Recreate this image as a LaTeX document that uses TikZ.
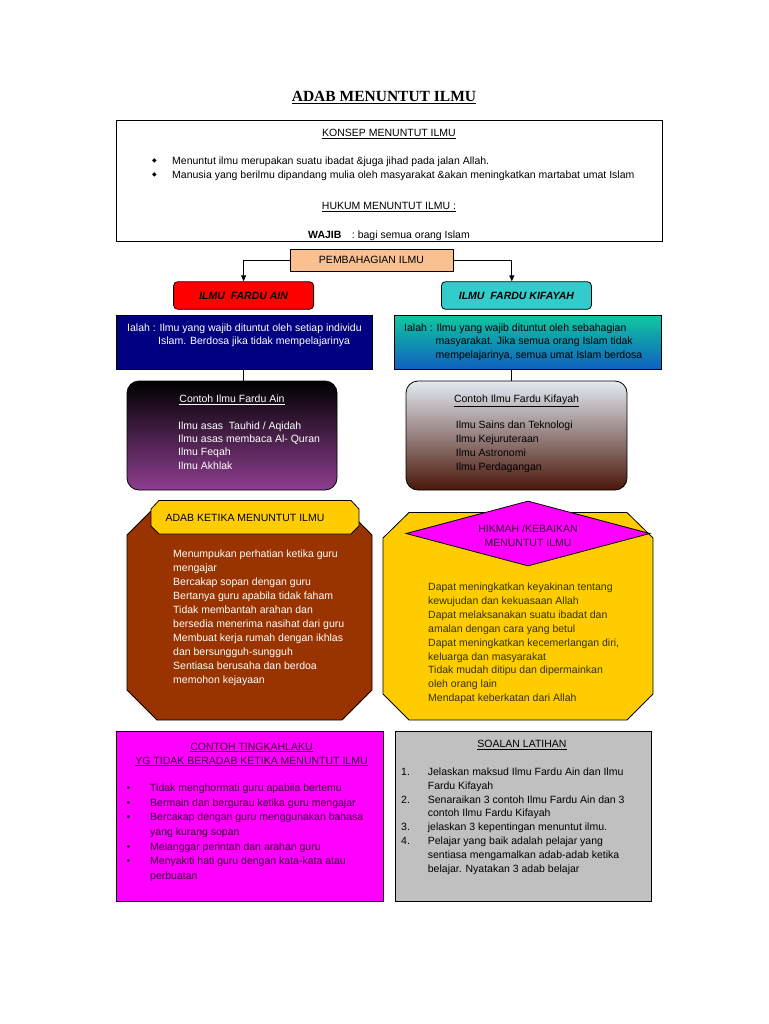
\documentclass[tikz,border=0pt]{standalone}
\usepackage{fontspec}
\setmainfont{Liberation Sans}
\newfontfamily\titlefont{Liberation Serif}
\newfontfamily\symfont{DejaVu Sans}
\usetikzlibrary{shapes.geometric,shapes.misc,arrows.meta}
\definecolor{pemc}{HTML}{FAC090}
\definecolor{fainc}{HTML}{FF0000}
\definecolor{fkifc}{HTML}{33CCCC}
\definecolor{navyc}{HTML}{000080}
\definecolor{tealtop}{HTML}{10C8A0}
\definecolor{tealbot}{HTML}{1060C0}
\definecolor{purpbot}{HTML}{8E3E90}
\definecolor{brtop}{HTML}{E2EAF2}
\definecolor{brbot}{HTML}{4A1609}
\definecolor{adabc}{HTML}{993300}
\definecolor{goldc}{HTML}{FFCC00}
\definecolor{magc}{HTML}{FF00FF}
\definecolor{greyc}{HTML}{C0C0C0}
\definecolor{olivec}{HTML}{333300}
\definecolor{darkpur}{HTML}{330033}
\tikzset{
  txt/.style={inner sep=0pt, anchor=base west, font=\fontsize{10.5}{14}\selectfont},
  ctxt/.style={inner sep=0pt, anchor=base, font=\fontsize{10.5}{14}\selectfont},
  box/.style={draw=black, line width=0.8pt, inner sep=0pt},
  conn/.style={line width=0.8pt},
  tip/.style={-{Triangle[length=6pt,width=5pt]}},
}
\begin{document}
\begin{tikzpicture}[x=1pt,y=-1pt]
\useasboundingbox[fill=white] (0,0) rectangle (768,1024);

% title
\node[inner sep=0pt, anchor=base, font=\titlefont\bfseries\fontsize{15.5}{18}\selectfont] (title) at (384,102) {\underline{ADAB MENUNTUT ILMU}};

% top box
\begin{scope}
\clip (116,120) rectangle (662,240.4);
\node[txt] (wajib) at (308,238.2) {\textbf{WAJIB}\quad: bagi semua orang Islam};
\end{scope}
\node[box, minimum width=546pt, minimum height=121pt] (konsep) at (389,180.5) {};
\node[ctxt] (konsepT) at (389,137) {\underline{KONSEP MENUNTUT ILMU}};
\node[txt, font=\symfont\fontsize{6}{7}\selectfont] (b1) at (152,163) {◆};
\node[txt, font=\symfont\fontsize{6}{7}\selectfont] (b2) at (152,177) {◆};
\node[txt] (k1) at (172,164.5) {Menuntut ilmu merupakan suatu ibadat \&juga jihad pada jalan Allah.};
\node[txt] (k2) at (172,178.5) {Manusia yang berilmu dipandang mulia oleh masyarakat \&akan meningkatkan martabat umat Islam};
\node[ctxt] (hukum) at (389,210) {\underline{HUKUM MENUNTUT ILMU :}};

% pembahagian
\node[box, fill=pemc, minimum width=163pt, minimum height=22pt, font=\fontsize{10.5}{12}\selectfont] (pem) at (371.5,260) {PEMBAHAGIAN ILMU};
\node[box, fill=fainc, rounded corners=4pt, minimum width=140pt, minimum height=27.5pt, font=\bfseries\itshape\fontsize{10.5}{12}\selectfont] (fain) at (243.6,295.5) {ILMU\ \ FARDU AIN};
\node[box, fill=fkifc, rounded corners=4pt, minimum width=150pt, minimum height=27.5pt, font=\bfseries\itshape\fontsize{10.5}{12}\selectfont] (fkif) at (516.4,295.5) {ILMU\ \ FARDU KIFAYAH};
\coordinate (kx) at ([xshift=-4.6pt]fkif.north);
\draw[conn, tip] (pem.west) -| (fain.north);
\draw[conn, tip] (pem.east) -| (kx);

% definition boxes
\node[box, fill=navyc, minimum width=256pt, minimum height=54pt] (navy) at (244,342) {};
\node[txt, text=white] (navyT) at (127,331) {\begin{tabular}[t]{@{}l@{}}Ialah : Ilmu yang wajib dituntut oleh setiap individu\\[-0.5pt] \hspace{31pt}Islam. Berdosa jika tidak mempelajarinya\end{tabular}};
\node[box, top color=tealtop, bottom color=tealbot, minimum width=267pt, minimum height=54pt] (teal) at (528.3,342) {};
\node[txt] (tealT) at (404,331) {\begin{tabular}[t]{@{}l@{}}Ialah : Ilmu yang wajib dituntut oleh sebahagian\\[-0.5pt] \hspace{31.5pt}masyarakat. Jika semua orang Islam tidak\\[-0.5pt] \hspace{31.5pt}mempelajarinya, semua umat Islam berdosa\end{tabular}};

% example boxes
\node[box, top color=black, bottom color=purpbot, rounded corners=12pt, minimum width=210pt, minimum height=109pt] (purple) at (232,435.5) {};
\node[ctxt, text=white] (purT) at (232,402.5) {\underline{Contoh Ilmu Fardu Ain}};
\node[txt, text=white, font=\fontsize{10.5}{13.4}\selectfont] (purL) at (178,429) {\begin{tabular}[t]{@{}l@{}}Ilmu asas\ \ Tauhid / Aqidah\\ Ilmu asas membaca Al- Quran\\ Ilmu Feqah\\ Ilmu Akhlak\end{tabular}};
\node[box, top color=brtop, bottom color=brbot, rounded corners=12pt, minimum width=221pt, minimum height=109pt] (brown) at (516.5,435.5) {};
\node[ctxt] (brT) at (516.5,402.5) {\underline{Contoh Ilmu Fardu Kifayah}};
\node[txt] (brL) at (455.7,428.5) {\begin{tabular}[t]{@{}l@{}}Ilmu Sains dan Teknologi\\ Ilmu Kejuruteraan\\ Ilmu Astronomi\\ Ilmu Perdagangan\end{tabular}};
\draw[conn] (navy.south -| fain.north) -- (purple.north -| fain.north);
\draw[conn] (teal.south -| kx) -- (brown.north -| kx);

% adab octagon
\draw[box, fill=adabc] (127,535) -- (157,505) -- (342,505) -- (372,535) -- (372,690) -- (342,720) -- (157,720) -- (127,690) -- cycle;
\coordinate (adab) at (249.5,612.5);
\draw[box, fill=goldc] (151,509) -- (159,500.5) -- (351,500.5) -- (359,509) -- (359,526) -- (351,534) -- (159,534) -- (151,526) -- cycle;
\coordinate (adabH) at (255,517);
\node[ctxt] (adabHT) at (245,521.5) {ADAB KETIKA MENUNTUT ILMU};
\node[txt, text=white] (adabL) at (173,557.5) {\begin{tabular}[t]{@{}l@{}}Menumpukan perhatian ketika guru\\ mengajar\\ Bercakap sopan dengan guru\\ Bertanya guru apabila tidak faham\\ Tidak membantah arahan dan\\ bersedia menerima nasihat dari guru\\ Membuat kerja rumah dengan ikhlas\\ dan bersungguh-sungguh\\ Sentiasa berusaha dan berdoa\\ memohon kejayaan\end{tabular}};

% hikmah octagon
\draw[box, fill=goldc] (383,538) -- (409,512.5) -- (627,512.5) -- (653,538) -- (653,694) -- (627,720) -- (409,720) -- (383,694) -- cycle;
\coordinate (hikmah) at (518,616);
\node[box, diamond, fill=magc, minimum width=244pt, minimum height=65pt] (hikD) at (528,533.5) {};
\node[ctxt, text=darkpur, font=\fontsize{10.5}{14.3}\selectfont] (hikT) at (528,532.5) {\begin{tabular}[t]{@{}c@{}}HIKMAH /KEBAIKAN\\ MENUNTUT ILMU\end{tabular}};
\node[txt, text=olivec, font=\fontsize{10.5}{13.9}\selectfont] (hikL) at (428,590.5) {\begin{tabular}[t]{@{}l@{}}Dapat meningkatkan keyakinan tentang\\ kewujudan dan kekuasaan Allah\\ Dapat melaksanakan suatu ibadat dan\\ amalan dengan cara yang betul\\ Dapat meningkatkan kecemerlangan diri,\\ keluarga dan masyarakat\\ Tidak mudah ditipu dan dipermainkan\\ oleh orang lain\\ Mendapat keberkatan dari Allah\end{tabular}};

% contoh tingkahlaku
\node[box, fill=magc, minimum width=267pt, minimum height=170pt] (ting) at (249.5,816) {};
\node[ctxt, text=darkpur] (tingT) at (251.5,750) {\begin{tabular}[t]{@{}c@{}}\underline{CONTOH TINGKAHLAKU}\\ \underline{YG TIDAK BERADAB KETIKA MENUNTUT ILMU}\end{tabular}};
\node[txt, text=darkpur, font=\fontsize{10.5}{14.67}\selectfont] (tingL) at (126.3,791.5) {\begin{tabular}[t]{@{}p{23.7pt}@{}l@{}}•& Tidak menghormati guru apabila bertemu\\ •& Bermain dan bergurau ketika guru mengajar\\ •& Bercakap dengan guru menggunakan bahasa\\ & yang kurang sopan\\ •& Melanggar perintah dan arahan guru\\ •& Menyakiti hati guru dengan kata-kata atau\\ & perbuatan\end{tabular}};

% soalan latihan
\node[box, fill=greyc, minimum width=256pt, minimum height=170pt] (soal) at (523,816) {};
\node[ctxt] (soalT) at (522,747.5) {\underline{SOALAN LATIHAN}};
\node[txt, font=\fontsize{10.5}{13.8}\selectfont] (soalL) at (401,775.5) {\begin{tabular}[t]{@{}p{26.7pt}@{}l@{}}1.& Jelaskan maksud Ilmu Fardu Ain dan Ilmu\\ & Fardu Kifayah\\ 2.& Senaraikan 3 contoh Ilmu Fardu Ain dan 3\\ & contoh Ilmu Fardu Kifayah\\ 3.& jelaskan 3 kepentingan menuntut ilmu.\\ 4.& Pelajar yang baik adalah pelajar yang\\ & sentiasa mengamalkan adab-adab ketika\\ & belajar. Nyatakan 3 adab belajar\end{tabular}};
\end{tikzpicture}
\end{document}
